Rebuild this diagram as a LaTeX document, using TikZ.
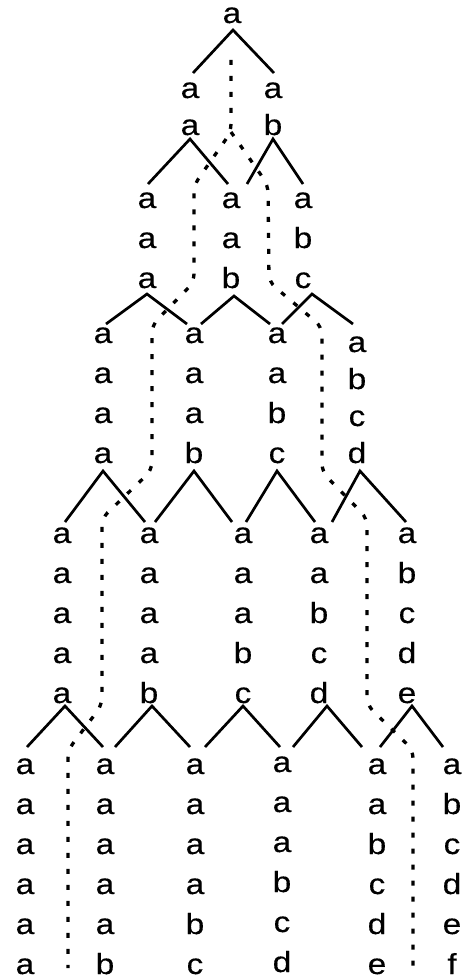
\documentclass[tikz,border=0pt]{standalone}
\usepackage{fontspec}
\setmainfont{Liberation Sans}
\newfontfamily\letterfont{Liberation Sans}[FakeBold=0.3]
\tikzset{
  lt/.style={anchor=base, inner sep=0pt, font=\letterfont\fontsize{29}{34}\selectfont},
  br/.style={line width=2.7pt, line cap=butt},
  sep/.style={line width=3.3pt, dash pattern=on 5pt off 11pt, rounded corners=8pt}
}
\newcommand\wordcol[5]{%
  \foreach \ltr [count=\i] in {#5} {\node[lt] (#1-\i) at (#2,{#3+(\i-1)*#4}) {\scalebox{1.15}[1]{\ltr}};}}
\newcommand\branch[6]{%
  \coordinate (#1) at (#2,#3);
  \coordinate (#1l) at (#4,#6);
  \coordinate (#1r) at (#5,#6);
  \draw[br] (#1l) -- (#1) -- (#1r);}
\begin{document}
\begin{tikzpicture}[x=1pt,y=-1pt]
\useasboundingbox (0,0) rectangle (462,979);
% level 1
\wordcol{w1a}{232}{23}{0}{a}
% level 2
\wordcol{w2a}{190}{98}{37}{a,a}
\wordcol{w2b}{273}{98}{37}{a,b}
% level 3
\wordcol{w3a}{147}{208}{40}{a,a,a}
\wordcol{w3b}{231}{208}{40}{a,a,b}
\wordcol{w3c}{303}{208}{40}{a,b,c}
% level 4
\wordcol{w4a}{103}{343}{40}{a,a,a,a}
\wordcol{w4b}{194}{343}{40}{a,a,a,b}
\wordcol{w4c}{277}{343}{40}{a,a,b,c}
\wordcol{w4d}{357}{352}{37}{a,b,c,d}
% level 5
\wordcol{w5a}{62}{543}{40}{a,a,a,a,a}
\wordcol{w5b}{149}{543}{40}{a,a,a,a,b}
\wordcol{w5c}{243}{543}{40}{a,a,a,b,c}
\wordcol{w5d}{319}{543}{40}{a,a,b,c,d}
\wordcol{w5e}{407}{543}{40}{a,b,c,d,e}
% level 6
\wordcol{w6a}{25}{774}{40}{a,a,a,a,a,a}
\wordcol{w6b}{105}{774}{40}{a,a,a,a,a,b}
\wordcol{w6c}{195}{774}{40}{a,a,a,a,b,c}
\wordcol{w6d}{282}{772}{40}{a,a,a,b,c,d}
\wordcol{w6e}{377}{774}{40}{a,a,b,c,d,e}
\wordcol{w6f}{452}{774}{40}{a,b,c,d,e,f}
% branches
\branch{b1a}{233}{30}{193}{274}{73}
\branch{b2a}{190}{139}{148}{228}{184}
\branch{b2b}{273}{139}{247}{303}{184}
\branch{b3a}{147}{294}{106}{187}{324}
\branch{b3b}{234}{296}{201}{270}{324}
\branch{b3c}{312}{294}{282}{353}{324}
\branch{b4a}{103}{471}{65}{145}{522}
\branch{b4b}{194}{471}{155}{232}{522}
\branch{b4c}{277}{471}{246}{315}{522}
\branch{b4d}{360}{471}{332}{406}{522}
\branch{b5a}{65}{706}{27}{103}{747}
\branch{b5b}{152}{706}{115}{190}{747}
\branch{b5c}{243}{706}{205}{280}{747}
\branch{b5d}{327}{706}{293}{362}{747}
\branch{b5e}{412}{706}{380}{443}{747}
% separators
\coordinate (s0) at (231,60);
\coordinate (sf) at (231,132);
\coordinate (sl) at (68,968);
\coordinate (sr) at (413,968);
\draw[sep] (s0) -- (sf) -- (194,185) -- (194,282) -- (152,325) -- (152,470)
  -- (102,518) -- (102,705) -- (68,750) -- (sl);
\draw[sep] (sf) -- (268,185) -- (269,282) -- (322,327) -- (322,472)
  -- (367,518) -- (367,705) -- (413,750) -- (sr);
\end{tikzpicture}
\end{document}
